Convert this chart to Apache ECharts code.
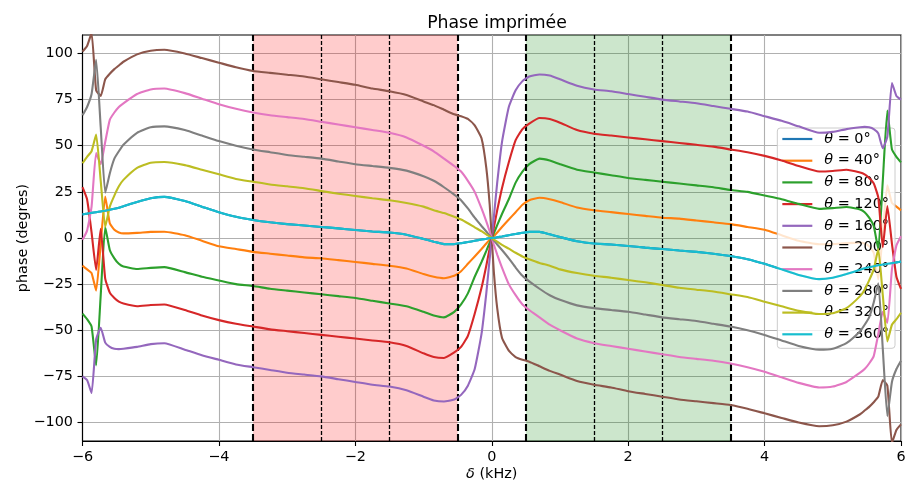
<!DOCTYPE html>
<html>
<head>
<meta charset="utf-8">
<script src="https://cdn.jsdelivr.net/npm/echarts@6/dist/echarts.min.js"></script>
<style>html,body{margin:0;padding:0;background:#fff}#c{width:906px;height:486px}</style>
</head>
<body>
<div id="c"></div>
<script>
// detuning δ (kHz)
const xs = [-6, -5.933, -5.867, -5.8, -5.733, -5.667, -5.6, -5.533, -5.467, -5.4, -5.2, -5, -4.8, -4.5, -4.25, -4, -3.75, -3.5, -3.25, -3, -2.75, -2.5, -2.25, -2, -1.75, -1.5, -1.25, -1, -0.85, -0.7, -0.55, -0.45, -0.35, -0.25, -0.15, -0.08, -0.03, 0,
  0.03, 0.08, 0.15, 0.25, 0.35, 0.45, 0.55, 0.7, 0.85, 1, 1.25, 1.5, 1.75, 2, 2.25, 2.5, 2.75, 3, 3.25, 3.5, 3.75, 4, 4.25, 4.5, 4.8, 5, 5.2, 5.4, 5.467, 5.533, 5.6, 5.667, 5.733, 5.8, 5.867, 5.933, 6];

const theta0 = [12.8, 13.2, 13.6, 14, 14.4, 14.8, 15.3, 15.8, 16.4, 17.2, 19.5, 21.5, 22.3, 20, 17, 14, 11.5, 9.8, 8.5, 7.5, 6.8, 6, 5.2, 4.3, 3.5, 3, 1.8, -0.5, -2, -3.3, -3.3, -2.8, -2.2, -1.5, -0.8, -0.4, -0.1, 0,
  0.1, 0.4, 0.8, 1.5, 2.2, 2.8, 3.3, 3.3, 2, 0.5, -1.8, -3, -3.5, -4.3, -5.2, -6, -6.8, -7.5, -8.5, -9.8, -11.5, -14, -17, -20, -22.3, -21.5, -19.5, -17.2, -16.4, -15.8, -15.3, -14.8, -14.4, -14, -13.6, -13.2, -12.8];
const theta40 = [-15, -17, -19, -28.5, -3, 22.5, 8, 4.5, 3, 2.5, 2.8, 3.3, 3.4, 1.5, -1.5, -4.5, -6, -7.5, -8.5, -9.5, -10.5, -11, -12, -13, -14, -15, -16.5, -19.5, -21, -21.8, -20.5, -18, -14, -10, -6, -3, -1, 0,
  1, 3, 6, 10, 14, 18, 20.5, 21.8, 21, 19.5, 16.5, 15, 14, 13, 12, 11, 10.5, 9.5, 8.5, 7.5, 6, 4.5, 1.5, -1.5, -3.4, -3.3, -2.8, -2.5, -3, -4.5, -8, -22.5, 3, 28.5, 19, 17, 15];
const theta80 = [-41, -44, -48, -69, -31, 6, -6.5, -11, -14, -15.5, -16.8, -16.2, -15.8, -18.5, -21, -23, -25, -26, -27.5, -28.5, -29.5, -30.5, -31.5, -32.5, -34, -35.5, -37, -40, -42, -43, -40, -36, -30, -21, -13, -7, -2.5, 0,
  2.5, 7, 13, 21, 30, 36, 40, 43, 42, 40, 37, 35.5, 34, 32.5, 31.5, 30.5, 29.5, 28.5, 27.5, 26, 25, 23, 21, 18.5, 15.8, 16.2, 16.8, 15.5, 14, 11, 6.5, -6, 31, 69, 48, 44, 41];
const theta120 = [27.6, 21, 3, -17.3, 5, -22, -29.6, -32.5, -34.5, -35.5, -37, -36.3, -36, -39, -42, -44.5, -46.5, -48, -49.5, -50.5, -51.5, -52.5, -53.5, -54.5, -55.5, -56.5, -58.5, -62.5, -64.5, -65, -62, -59, -53, -41, -27, -15, -5.5, 0,
  5.5, 15, 27, 41, 53, 59, 62, 65, 64.5, 62.5, 58.5, 56.5, 55.5, 54.5, 53.5, 52.5, 51.5, 50.5, 49.5, 48, 46.5, 44.5, 42, 39, 36, 36.3, 37, 35.5, 34.5, 32.5, 29.6, 22, -5, 17.3, -3, -21, -27.6];
const theta160 = [-75, -77, -84, -55, -48.6, -56.7, -59, -60, -60.2, -60, -59, -57.5, -57, -60.5, -63.5, -66, -68.5, -70, -71.5, -73, -74, -75, -76.5, -78, -79.5, -80.5, -82.5, -86, -88, -88.6, -87.5, -85, -80, -71, -52, -30, -11, 0,
  11, 30, 52, 71, 80, 85, 87.5, 88.6, 88, 86, 82.5, 80.5, 79.5, 78, 76.5, 75, 74, 73, 71.5, 70, 68.5, 66, 63.5, 60.5, 57, 57.5, 59, 60, 60.2, 60, 59, 56.7, 48.6, 55, 84, 77, 75];
const theta200 = [101, 104, 111, 80, 77, 86, 89, 91.5, 93.5, 95.5, 99.5, 101.5, 102, 100, 97.5, 95, 92.5, 90.5, 89.5, 88.5, 87.5, 86, 84.5, 83, 81, 79.5, 77.5, 74, 72, 69.5, 67, 66, 64.5, 61, 54, 38, 18, 0,
  -18, -38, -54, -61, -64.5, -66, -67, -69.5, -72, -74, -77.5, -79.5, -81, -83, -84.5, -86, -87.5, -88.5, -89.5, -90.5, -92.5, -95, -97.5, -100, -102, -101.5, -99.5, -95.5, -93.5, -91.5, -89, -86, -77, -80, -111, -104, -101];
const theta240 = [-1, 4, 17, 46, 40, 52, 64, 68, 71, 73, 78, 80.5, 81, 78.5, 75.5, 72.5, 70, 68, 66.5, 65.5, 64.5, 63, 61.5, 60, 58.5, 57, 54.5, 50, 47, 43, 39, 36, 31, 25, 16, 9, 3.5, 0,
  -3.5, -9, -16, -25, -31, -36, -39, -43, -47, -50, -54.5, -57, -58.5, -60, -61.5, -63, -64.5, -65.5, -66.5, -68, -70, -72.5, -75.5, -78.5, -81, -80.5, -78, -73, -71, -68, -64, -52, -40, -46, -17, -4, 1];
const theta280 = [66.5, 71, 78, 96.5, 60, 24.5, 35, 43, 47, 50.5, 57, 60, 60.5, 58.5, 55.5, 52.5, 50, 48, 46.5, 45, 44, 43, 41.5, 40, 39, 38, 36.5, 33.5, 31, 27.5, 23.5, 20.5, 16, 11, 6.5, 3.5, 1.3, 0,
  -1.3, -3.5, -6.5, -11, -16, -20.5, -23.5, -27.5, -31, -33.5, -36.5, -38, -39, -40, -41.5, -43, -44, -45, -46.5, -48, -50, -52.5, -55.5, -58.5, -60.5, -60, -57, -50.5, -47, -43, -35, -24.5, -60, -96.5, -78, -71, -66.5];
const theta320 = [40.5, 44, 47, 56, 31, 6, 17, 23, 28, 31.5, 38, 40.8, 41.2, 39.5, 37, 34.5, 32, 30.5, 29, 28, 27, 25.5, 24, 22.8, 21.5, 20.5, 19, 17, 15, 13.5, 11.5, 10, 8, 5.8, 3.7, 2, 0.7, 0,
  -0.7, -2, -3.7, -5.8, -8, -10, -11.5, -13.5, -15, -17, -19, -20.5, -21.5, -22.8, -24, -25.5, -27, -28, -29, -30.5, -32, -34.5, -37, -39.5, -41.2, -40.8, -38, -31.5, -28, -23, -17, -6, -31, -56, -47, -44, -40.5];
const theta360 = theta0.slice();

const seriesNames = ['θ = 0°', 'θ = 40°', 'θ = 80°', 'θ = 120°', 'θ = 160°', 'θ = 200°', 'θ = 240°', 'θ = 280°', 'θ = 320°', 'θ = 360°'];
const seriesValues = [theta0, theta40, theta80, theta120, theta160, theta200, theta240, theta280, theta320, theta360];
const colors = ['#1f77b4', '#ff7f0e', '#2ca02c', '#d62728', '#9467bd', '#8c564b', '#e377c2', '#7f7f7f', '#bcbd22', '#17becf'];

const redBand = [-3.5, -0.5];
const greenBand = [0.5, 3.5];
const thickLines = [-3.5, -0.5, 0.5, 3.5];
const thinLines = [-2.5, -1.5, 1.5, 2.5];
const xTicks = [-6, -4, -2, 0, 2, 4, 6];
const yTicks = [-100, -75, -50, -25, 0, 25, 50, 75, 100];

const FONT = 'DejaVu Sans';
const FS = 14.4;
const fmtMinus = v => String(v).replace('-', '\u2212');

const chart = echarts.init(document.getElementById('c'), null, {renderer: 'canvas'});

const series = [];
series.push({
  type: 'line', name: '_bands', data: [], silent: true, z: 1,
  markArea: {
    silent: true,
    data: [
      [{xAxis: redBand[0], itemStyle: {color: 'rgba(255,0,0,0.2)'}}, {xAxis: redBand[1]}],
      [{xAxis: greenBand[0], itemStyle: {color: 'rgba(0,128,0,0.2)'}}, {xAxis: greenBand[1]}]
    ]
  }
});
seriesNames.forEach((n, k) => {
  series.push({
    type: 'line', name: n, showSymbol: false, symbol: 'none',
    smooth: 0.15,
    data: xs.map((x, i) => [x, seriesValues[k][i]]),
    lineStyle: {width: 2.1, color: colors[k]},
    itemStyle: {color: colors[k]},
    z: 2 + k, animation: false
  });
});
series.push({
  type: 'line', name: '_vlines', data: [], silent: true, z: 20,
  markLine: {
    silent: true, symbol: ['none', 'none'], label: {show: false},
    data: thickLines.map(v => ({xAxis: v, lineStyle: {color: '#000', width: 2.1, type: [7, 3]}}))
      .concat(thinLines.map(v => ({xAxis: v, lineStyle: {color: '#000', width: 1.3, type: [4, 2]}})))
  }
});

chart.setOption({
  animation: false,
  backgroundColor: '#fff',
  title: {
    text: 'Phase imprimée', left: 492, top: 10, textAlign: 'center',
    textStyle: {fontFamily: FONT, fontSize: 17.3, fontWeight: 'normal', color: '#000'}
  },
  grid: {left: 82.5, right: 5, top: 35, bottom: 45, show: true, borderColor: '#000', borderWidth: 1.1,
    backgroundColor: 'transparent', containLabel: false, outerBoundsMode: 'none'},
  legend: {
    orient: 'vertical', right: 11, top: 128,
    data: seriesNames,
    icon: 'rect', itemWidth: 30, itemHeight: 2.2, itemGap: 7.7,
    backgroundColor: 'rgba(255,255,255,0.8)', borderColor: '#cccccc', borderWidth: 1, borderRadius: 3,
    padding: [4, 6, 7, 5],
    textStyle: {fontFamily: FONT, fontSize: FS, color: '#000', width: 76, overflow: 'none',
      rich: {
        i: {fontFamily: FONT, fontStyle: 'italic', fontSize: FS, color: '#000', padding: [0, 0, 0, 7]},
        t: {fontFamily: FONT, fontSize: FS, color: '#000'}
      }},
    formatter: n => '{i|θ}{t|' + n.slice(1) + '}'
  },
  xAxis: {
    type: 'value', min: -6, max: 6, interval: 2,
    name: '{i|δ} (kHz)', nameLocation: 'middle', nameGap: 26, nameMoveOverlap: false,
    nameTextStyle: {fontFamily: FONT, fontSize: FS, color: '#000',
      rich: {i: {fontFamily: FONT, fontStyle: 'italic', fontSize: FS, color: '#000'}}},
    axisLine: {onZero: false, lineStyle: {color: '#000', width: 1.1}},
    axisTick: {show: true, inside: false, length: 5, lineStyle: {color: '#000', width: 1.1}},
    axisLabel: {fontFamily: FONT, fontSize: FS, color: '#000', margin: 9, formatter: fmtMinus},
    splitLine: {show: true, lineStyle: {color: '#b0b0b0', width: 1.1}}
  },
  yAxis: {
    type: 'value', min: -110, max: 110,
    name: 'phase (degres)', nameLocation: 'middle', nameGap: 52, nameMoveOverlap: false,
    nameTextStyle: {fontFamily: FONT, fontSize: FS, color: '#000'},
    axisLine: {onZero: false, lineStyle: {color: '#000', width: 1.1}},
    axisTick: {show: true, inside: false, length: 5, lineStyle: {color: '#000', width: 1.1}, customValues: yTicks},
    axisLabel: {fontFamily: FONT, fontSize: FS, color: '#000', margin: 9.5, formatter: fmtMinus, customValues: yTicks},
    splitLine: {show: true, lineStyle: {color: '#b0b0b0', width: 1.1}}
  },
  series: series
});
</script>
</body>
</html>
